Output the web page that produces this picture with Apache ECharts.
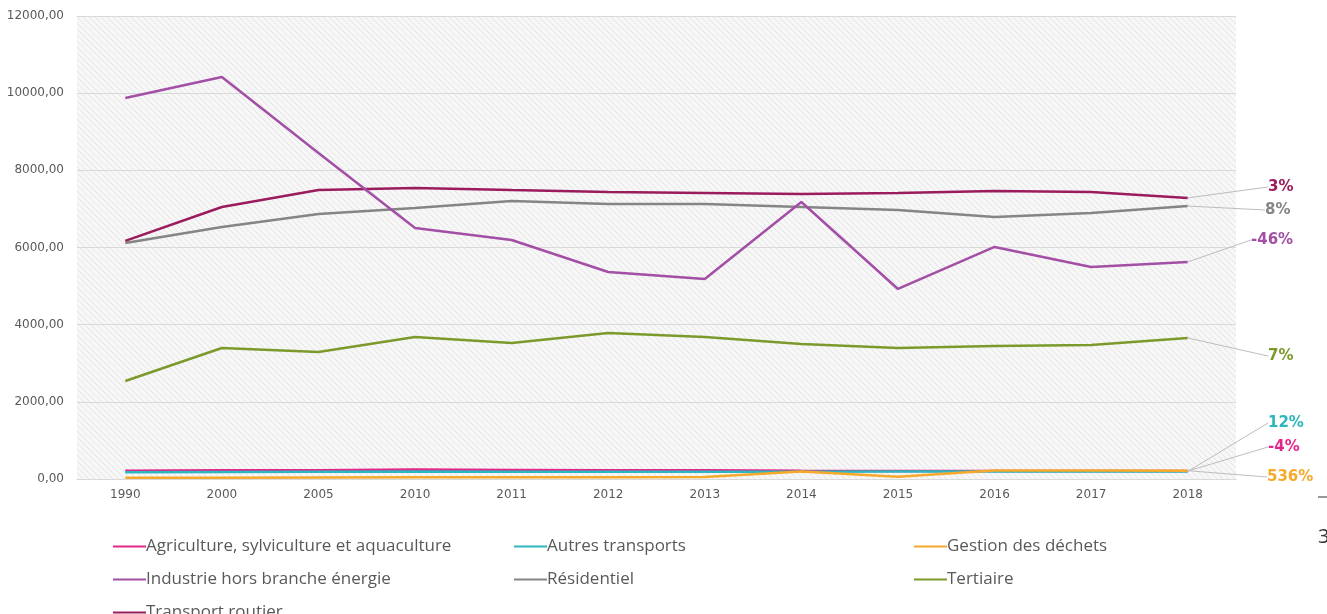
<!DOCTYPE html>
<html>
<head>
<meta charset="utf-8">
<script src="https://cdn.jsdelivr.net/npm/echarts@6/dist/echarts.min.js"></script>
<style>
  html, body { margin: 0; padding: 0; background: #ffffff; }
  #main { width: 1327px; height: 614px; }
</style>
</head>
<body>
<div id="main"></div>
<script>
// années
var years = ['1990', '2000', '2005', '2010', '2011', '2012', '2013', '2014', '2015', '2016', '2017', '2018']

// valeurs par secteur
var agriculture = [215, 225, 230, 245, 235, 225, 225, 215, 210, 210, 205, 205]
var autresTransports = [175, 180, 185, 195, 190, 185, 190, 190, 195, 195, 195, 196]
var gestionDechets = [30, 35, 40, 45, 45, 45, 50, 195, 60, 220, 220, 215]
var industrie = [9875, 10420, 8450, 6505, 6195, 5365, 5185, 7180, 4925, 6015, 5495, 5625]
var residentiel = [6115, 6530, 6870, 7025, 7205, 7130, 7130, 7050, 6970, 6790, 6895, 7075]
var tertiaire = [2540, 3395, 3290, 3680, 3525, 3785, 3680, 3500, 3395, 3445, 3475, 3655]
var transportRoutier = [6170, 7050, 7490, 7545, 7490, 7440, 7415, 7385, 7415, 7465, 7440, 7285]

// évolution affichée en bout de courbe
var evolutions = ['-4%', '12%', '536%', '-46%', '8%', '7%', '3%']

var names = [
  'Agriculture, sylviculture et aquaculture',
  'Autres transports',
  'Gestion des déchets',
  'Industrie hors branche énergie',
  'Résidentiel',
  'Tertiaire',
  'Transport routier'
]
var values = [agriculture, autresTransports, gestionDechets, industrie, residentiel, tertiaire, transportRoutier]
var colors = ['#E3268B', '#2EB6BE', '#F6A92A', '#A24FA5', '#858585', '#7C9A2C', '#9B1C5C']
// position des étiquettes (x gauche, y centre)
var labelPos = [[1260, 447], [1260, 423], [1259, 477], [1243, 240], [1257, 210], [1260, 356], [1260, 187]]

// fond hachuré
var hatch = document.createElement('canvas')
hatch.width = 6
hatch.height = 6
var ctx = hatch.getContext('2d')
ctx.fillStyle = '#f7f7f7'
ctx.fillRect(0, 0, 6, 6)
ctx.strokeStyle = '#e4e4e4'
ctx.lineWidth = 1
ctx.beginPath()
ctx.moveTo(0, 0); ctx.lineTo(6, 6)
ctx.moveTo(-3, 3); ctx.lineTo(3, 9)
ctx.moveTo(3, -3); ctx.lineTo(9, 3)
ctx.stroke()

var last = years.length - 1
var series = []
for (var i = 0; i < names.length; i++) {
  (function(idx) {
    series.push({
      name: names[idx],
      type: 'line',
      showSymbol: true,
      symbol: 'circle',
      symbolSize: 0.01,
      lineStyle: { width: 2.5, color: colors[idx] },
      itemStyle: { color: colors[idx] },
      z: idx === 3 ? 3 : 2,
      label: {
        show: false,
        formatter: evolutions[idx],
        color: colors[idx],
        fontFamily: 'DejaVu Sans',
        fontWeight: 'bold',
        fontSize: 15,
        padding: [0, 0, 0, 8]
      },
      labelLine: { show: false, lineStyle: { color: '#bdbdbd', width: 1 } },
      labelLayout: function(p) {
        if (p.dataIndex !== last) return {}
        return { x: labelPos[idx][0], y: labelPos[idx][1], align: 'left', verticalAlign: 'middle' }
      },
      data: values[idx].map(function(v, j) {
        if (j !== last) return v
        return { value: v, label: { show: true }, labelLine: { show: true } }
      })
    })
  })(i)
}

function legendCfg(left, top, list) {
  return {
    orient: 'vertical',
    left: left,
    top: top,
    height: 200,
    itemGap: 16,
    itemWidth: 33,
    itemHeight: 2,
    icon: 'rect',
    itemStyle: { borderWidth: 0 },
    textStyle: { color: '#595959', fontSize: 17, fontFamily: 'Open Sans', padding: [0, 0, 0, -5] },
    data: list
  }
}

var chart = echarts.init(document.getElementById('main'))
chart.setOption({
  animation: false,
  color: colors,
  grid: {
    left: 77,
    right: 91,
    top: 16,
    bottom: 135,
    show: true,
    borderWidth: 0,
    backgroundColor: { image: hatch, repeat: 'repeat' }
  },
  legend: [
    legendCfg(108, 533, [names[0], names[3]]),
    legendCfg(108, 599, [names[6]]),
    legendCfg(509, 533, [names[1], names[4]]),
    legendCfg(909, 533, [names[2], names[5]])
  ],
  xAxis: {
    type: 'category',
    data: years,
    boundaryGap: true,
    axisLine: { lineStyle: { color: '#d9d9d9' } },
    axisTick: { show: false },
    axisLabel: { color: '#595959', fontSize: 12, fontFamily: 'DejaVu Sans', margin: 10 }
  },
  yAxis: {
    type: 'value',
    min: 0,
    max: 12000,
    interval: 2000,
    axisLine: { show: false },
    axisTick: { show: false },
    splitLine: { lineStyle: { color: '#d9d9d9' } },
    axisLabel: {
      color: '#595959',
      fontSize: 12,
      fontFamily: 'DejaVu Sans',
      margin: 13,
      formatter: function(v) { return v.toFixed(2).replace('.', ',') }
    }
  },
  graphic: [
    { type: 'text', left: 1318, top: 527, style: { text: '3', fontSize: 20, fill: '#333', fontFamily: 'Open Sans' } },
    { type: 'line', shape: { x1: 1318, y1: 497, x2: 1327, y2: 497 }, style: { stroke: '#333', lineWidth: 1 } }
  ],
  series: series
})
</script>
</body>
</html>
